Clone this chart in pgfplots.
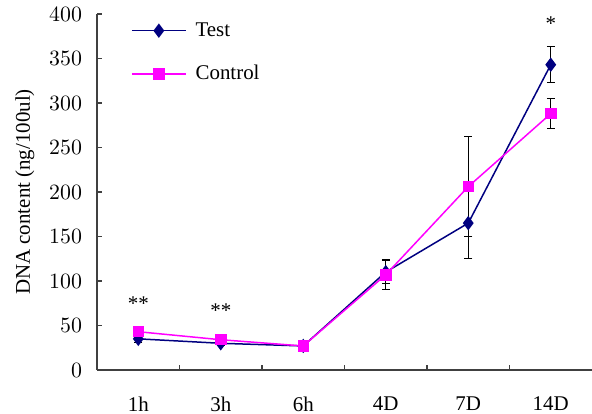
\documentclass[border=0pt]{standalone}
\usepackage{fontspec}
\setmainfont{Liberation Serif}
\usepackage{pgfplots}
\pgfplotsset{compat=1.18}
\definecolor{navyc}{RGB}{0,0,128}
\definecolor{magc}{RGB}{255,0,255}
\pgfplotstableread{
x y e
0 35 4
1 30 3
2 27 3
3 110 13
4 165 40
5 343 20
}\testdata
\pgfplotstableread{
x y e
0 43 4
1 34 3
2 27 3
3 107 17
4 206 56
5 288 17
}\controldata
\begin{document}
\begin{tikzpicture}
\begin{axis}[name=ax, scale only axis, width=247.5bp, height=178bp,
  xmin=-0.5, xmax=5.5, ymin=0, ymax=400,
  clip=false,
  font=\fontsize{10.5}{12}\selectfont,
  axis x line=bottom, axis y line=left,
  axis line style={-, black!75, line width=0.6pt},
  tick align=inside, major tick length=2.5bp, minor tick length=2.5bp,
  tick style={black!75, line width=0.6pt},
  ytick={0,50,...,400},
  yticklabel style={xshift=-4bp, font=\fontsize{11}{13}\selectfont},
  xtick={0,...,5}, xticklabels={1h,3h,6h,4D,7D,14D},
  minor xtick={0.5,1.5,2.5,3.5,4.5},
  major x tick style={draw=none},
  xticklabel style={yshift=-10bp},
  ylabel={DNA content (ng/100ul)},
  ylabel style={at={(axis description cs:-0.1455,0.5)}, anchor=center},
  legend style={draw=none, fill=none, at={(axis description cs:0.056,1.0)}, anchor=north west, row sep=9bp, font=\fontsize{10.5}{12}\selectfont, nodes={inner xsep=4.5bp}},
  legend cell align=left,
  legend image code/.code={\draw[mark repeat=2,mark phase=2,#1] plot coordinates {(0bp,0bp)(13.5bp,0bp)(27bp,0bp)};},
]
\addplot[navyc, line width=0.75pt, mark=diamond*, mark size=3bp, mark options={fill=navyc, solid},
  error bars/.cd, y dir=both, y explicit,
  error bar style={black, line width=0.5pt},
  error mark options={rotate=90, black, mark size=2bp, line width=0.5pt}]
  table[x=x, y=y, y error=e] {\testdata};
\addlegendentry{Test}
\addplot[magc, line width=0.75pt, mark=square*, mark size=2.5bp, mark options={fill=magc, solid},
  error bars/.cd, y dir=both, y explicit,
  error bar style={black, line width=0.5pt},
  error mark options={rotate=90, black, mark size=2bp, line width=0.5pt}]
  table[x=x, y=y, y error=e] {\controldata};
\addlegendentry{Control}
\node[font=\fontsize{10.5}{12}\selectfont] at (axis cs:0,75) {**};
\node[font=\fontsize{10.5}{12}\selectfont] at (axis cs:1,67) {**};
\node[font=\fontsize{10.5}{12}\selectfont] at (axis cs:5,389) {*};
\end{axis}
\pgfresetboundingbox
\path[use as bounding box] ([xshift=-48.5bp, yshift=-22bp]ax.south west) rectangle ([yshift=7bp]ax.north east);
\end{tikzpicture}
\end{document}
